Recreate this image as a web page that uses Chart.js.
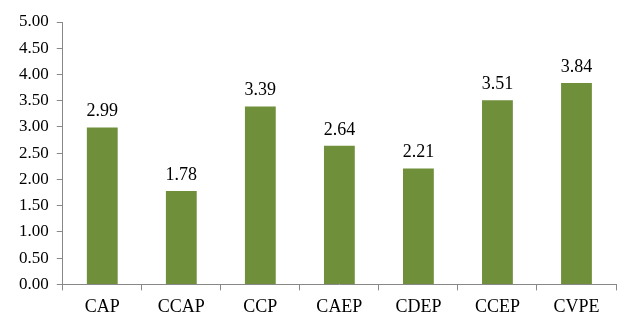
<!DOCTYPE html>
<html lang="en">
<head>
  <meta charset="UTF-8">
  <title>Bar chart</title>
  <script src="https://cdn.jsdelivr.net/npm/chart.js"></script>
  <style>
    body { margin: 0; background: #fff; }
    .box { width: 630px; height: 324px; }
  </style>
</head>
<body>
  <div class="box">
    <canvas id="grafico"></canvas>
  </div>

<script>
  // dados
  var categorias = ['CAP', 'CCAP', 'CCP', 'CAEP', 'CDEP', 'CCEP', 'CVPE'];
  var valores = [2.99, 1.78, 3.39, 2.64, 2.21, 3.51, 3.84];

  var fonte = "'Liberation Serif', 'Times New Roman', serif";
  var corBarra = '#6f8f3a';

  // escreve o valor em cima de cada barra
  const rotulos = {
    id: 'rotulos',
    afterDatasetsDraw(chart) {
      const ctx = chart.ctx;
      const meta = chart.getDatasetMeta(0);
      ctx.save();
      ctx.font = '18px ' + fonte;
      ctx.fillStyle = '#000';
      ctx.textAlign = 'center';
      ctx.textBaseline = 'alphabetic';
      meta.data.forEach(function (barra, i) {
        ctx.fillText(valores[i].toFixed(2), barra.x, barra.y - 11);
      });
      ctx.restore();
    }
  };

  new Chart(document.getElementById('grafico'), {
    type: 'bar',
    data: {
      labels: categorias,
      datasets: [{
        data: valores,
        backgroundColor: corBarra,
        borderWidth: 0,
        categoryPercentage: 1.0,
        barPercentage: 0.39
      }]
    },
    options: {
      responsive: true,
      maintainAspectRatio: false,
      animation: false,
      layout: { padding: { top: 22, right: 14, bottom: 0, left: 11 } },
      plugins: { legend: { display: false }, tooltip: { enabled: false } },
      scales: {
        x: {
          grid: { drawOnChartArea: false, tickLength: 6, color: '#888' },
          border: { color: '#888' },
          ticks: { color: '#000', font: { family: fonte, size: 18 }, padding: 6 }
        },
        y: {
          min: 0,
          max: 5,
          grid: { drawOnChartArea: false, tickLength: 6, color: '#888' },
          border: { color: '#888' },
          ticks: {
            stepSize: 0.5,
            color: '#000',
            font: { family: fonte, size: 17 },
            padding: 8,
            callback: function (v) { return v.toFixed(2); }
          }
        }
      }
    },
    plugins: [rotulos]
  });
</script>
</body>
</html>
